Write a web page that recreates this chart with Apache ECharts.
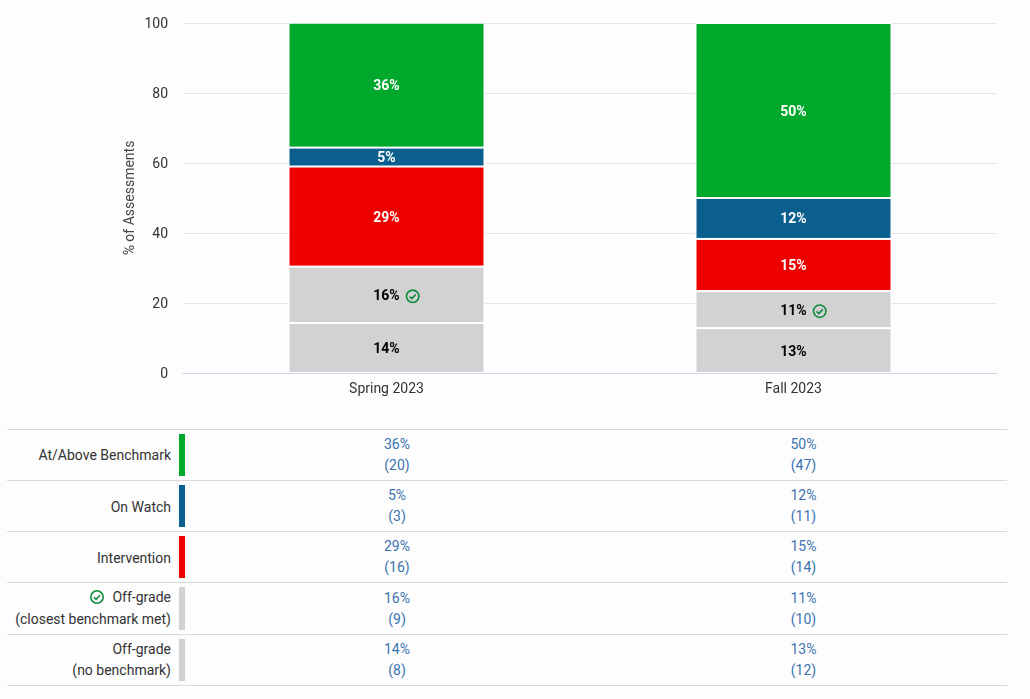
<!DOCTYPE html>
<html>
<head>
<meta charset="utf-8">
<script src="https://cdn.jsdelivr.net/npm/echarts@6/dist/echarts.min.js"></script>
<style>
    html, body { margin: 0; padding: 0; background: #fdfdfd; overflow: hidden; }
    body { width: 1030px; height: 699px; position: relative; font-family: Roboto, sans-serif; font-size: 14px; }
    #main { position: absolute; left: 0; top: 0; width: 1030px; height: 420px; }
    #tbl { position: absolute; left: 7px; top: 429px; width: 1000px; border-collapse: collapse; table-layout: fixed; }
    #tbl td { border-top: 1px solid #d9d9d9; border-bottom: 1px solid #d9d9d9; padding: 0; height: 50px; }
    #tbl tr.tall td { height: 51px; }
    #tbl td.name { text-align: right; padding-right: 8px; color: #333; line-height: 22px; }
    #tbl td.name span { position: relative; }
    #tbl tr:nth-child(2) td.name span, #tbl tr:nth-child(3) td.name span { top: 1px; }
    #tbl tr:nth-child(4) td.name span { top: -1px; }
    #tbl tr:nth-child(5) td.name { line-height: 21px; }
    #tbl td.val { text-align: center; color: #3a73b0; line-height: 21px; }
    #tbl .mark { width: 6px; height: 42px; display: block; }
    #tbl tr.tall .mark { height: 43px; }
    #tbl svg { vertical-align: -3px; margin-right: 4px; }
</style>
</head>
<body>
<div id="main"></div>
<table id="tbl"></table>
<script>
var periods = ['Spring 2023', 'Fall 2023'];
var yTicks = { min: 0, max: 100, interval: 20 };

// bottom of the stack first
var seriesNames = ['Off-grade (no benchmark)', 'Off-grade (closest benchmark met)', 'Intervention', 'On Watch', 'At/Above Benchmark'];
var seriesColors = ['#d2d2d2', '#d2d2d2', '#ee0000', '#0b5f8f', '#00a92c'];
var noBenchmark = [14.3, 12.8];
var closestMet = [16.1, 10.6];
var intervention = [28.6, 14.9];
var onWatch = [5.4, 11.7];
var atAbove = [35.7, 50];
var pctLabels = [['14%', '13%'], ['16%', '11%'], ['29%', '15%'], ['5%', '12%'], ['36%', '50%']];
var counts = [[8, 12], [9, 10], [16, 14], [3, 11], [20, 47]];

var checkSvg = '<svg xmlns="http://www.w3.org/2000/svg" width="16" height="16" viewBox="0 0 16 16">' +
    '<circle cx="8" cy="8" r="6.2" fill="none" stroke="#0f8a3c" stroke-width="1.6"/>' +
    '<path d="M4.9 8.2l2.2 2.2 4-4.2" fill="none" stroke="#0f8a3c" stroke-width="1.6"/></svg>';
var checkUrl = 'data:image/svg+xml;charset=utf-8,' + encodeURIComponent(checkSvg);

var myChart = echarts.init(document.getElementById('main'));
var allData = [noBenchmark, closestMet, intervention, onWatch, atAbove];
var series = [];
for (var i = 0; i < allData.length; i++) {
    (function (i) {
        var dark = seriesColors[i] == '#d2d2d2';
        series.push({
            name: seriesNames[i],
            type: 'bar',
            stack: 'total',
            barWidth: 196,
            data: allData[i],
            itemStyle: { color: seriesColors[i], borderColor: '#ffffff', borderWidth: 1 },
            label: {
                show: true,
                position: 'inside',
                offset: [0, 1.5],
                fontFamily: 'Roboto',
                fontSize: 14,
                fontWeight: 'bold',
                color: dark ? '#000000' : '#ffffff',
                formatter: function (p) {
                    var txt = pctLabels[i][p.dataIndex];
                    // spacer on the left keeps the number centred with the icon beside it
                    return i == 1 ? '{sp|}' + txt + '{gap|}{ic|}' : txt;
                },
                rich: {
                    sp: { width: 21 },
                    gap: { width: 5 },
                    ic: { width: 16, height: 16, backgroundColor: { image: checkUrl } }
                }
            }
        });
    })(i);
}

var option = {
    animation: false,
    grid: { left: 183, right: 33, top: 23, height: 350 },
    xAxis: {
        type: 'category',
        data: periods,
        axisTick: { show: false },
        axisLine: { lineStyle: { color: '#ccd6eb' } },
        axisLabel: { fontFamily: 'Roboto', fontSize: 14, color: '#333333', margin: 9 }
    },
    yAxis: {
        type: 'value',
        min: yTicks.min,
        max: yTicks.max,
        interval: yTicks.interval,
        name: '% of Assessments',
        nameLocation: 'middle',
        nameGap: 46,
        nameMoveOverlap: false,
        nameTextStyle: { fontFamily: 'Roboto', fontSize: 14, color: '#444444' },
        axisLabel: {
            fontFamily: 'Roboto',
            fontSize: 14,
            color: '#333333',
            margin: 15,
            verticalAlign: 'top',
            lineHeight: 16,
            padding: [-7, 0, 0, 0]
        },
        splitLine: { lineStyle: { color: '#e6e6e6' } }
    },
    series: series
};
myChart.setOption(option);

// table under the chart, top row is the top of the stack
var rowNames = [
    ['At/Above Benchmark'],
    ['On Watch'],
    ['Intervention'],
    ['Off-grade', '(closest benchmark met)'],
    ['Off-grade', '(no benchmark)']
];
var html = '<colgroup><col style="width:172px"><col style="width:15px"><col style="width:406px"><col style="width:407px"></colgroup>';
for (var r = 0; r < rowNames.length; r++) {
    var s = rowNames.length - 1 - r;
    var nm = rowNames[r][0];
    if (r == 3) {
        nm = checkSvg + ' ' + nm;
    }
    if (rowNames[r][1]) {
        nm += '<br>' + rowNames[r][1];
    }
    html += '<tr' + (r == 3 ? ' class="tall"' : '') + '><td class="name"><span>' + nm + '</span></td>';
    html += '<td><span class="mark" style="background:' + seriesColors[s] + '"></span></td>';
    for (var c = 0; c < periods.length; c++) {
        html += '<td class="val">' + pctLabels[s][c] + '<br>(' + counts[s][c] + ')</td>';
    }
    html += '</tr>';
}
document.getElementById('tbl').innerHTML = html;
</script>
</body>
</html>
